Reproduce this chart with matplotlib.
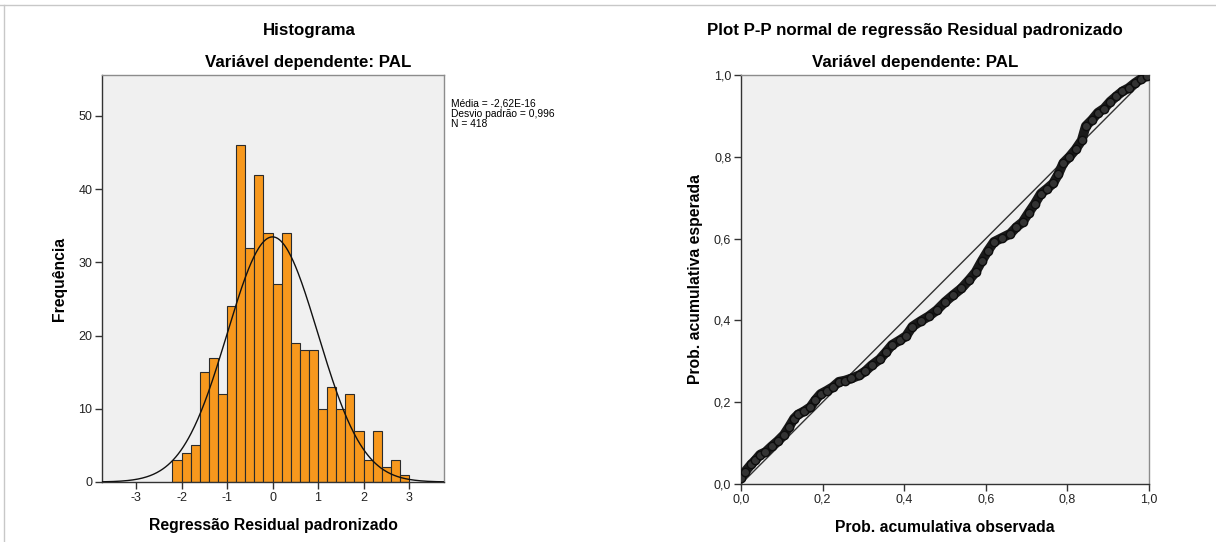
import numpy as np
import matplotlib
matplotlib.use('Agg')
import matplotlib.pyplot as plt
from matplotlib.lines import Line2D

plt.rcParams['font.family'] = ['Liberation Sans', 'DejaVu Sans']

# histogram data (standardized residuals, bin width 0.2)
bin_left = [-2.2, -2.0, -1.8, -1.6, -1.4, -1.2, -1.0, -0.8, -0.6, -0.4, -0.2, 0.0, 0.2,
            0.4, 0.6, 0.8, 1.0, 1.2, 1.4, 1.6, 1.8, 2.0, 2.2, 2.4, 2.6, 2.8]
counts = [3, 4, 5, 15, 17, 12, 24, 46, 32, 42, 34, 27, 34,
          19, 18, 18, 10, 13, 10, 12, 7, 3, 7, 2, 3, 1]
bin_width = 0.2
mean_val = -2.62e-16
sd_val = 0.996
n_obs = 418
hist_xticks = [-3, -2, -1, 0, 1, 2, 3]
hist_yticks = [0, 10, 20, 30, 40, 50]

pp_obs = [0.000, 0.010, 0.025, 0.035, 0.047, 0.060, 0.075, 0.090, 0.105, 0.118,
          0.130, 0.140, 0.155, 0.170, 0.182, 0.195, 0.210, 0.225, 0.240, 0.255,
          0.270, 0.290, 0.305, 0.320, 0.340, 0.355, 0.370, 0.390, 0.405, 0.420,
          0.440, 0.460, 0.480, 0.500, 0.520, 0.540, 0.560, 0.575, 0.590, 0.605,
          0.620, 0.640, 0.660, 0.675, 0.690, 0.705, 0.720, 0.735, 0.750, 0.765,
          0.778, 0.790, 0.805, 0.820, 0.835, 0.845, 0.860, 0.875, 0.890, 0.905,
          0.920, 0.935, 0.950, 0.965, 0.980, 0.995]
pp_exp = [0.015, 0.030, 0.048, 0.058, 0.072, 0.078, 0.092, 0.105, 0.120, 0.140,
          0.160, 0.170, 0.178, 0.188, 0.205, 0.220, 0.228, 0.237, 0.250, 0.253,
          0.258, 0.266, 0.276, 0.290, 0.305, 0.322, 0.340, 0.352, 0.362, 0.385,
          0.398, 0.410, 0.425, 0.445, 0.462, 0.478, 0.500, 0.518, 0.545, 0.570,
          0.592, 0.602, 0.612, 0.628, 0.640, 0.663, 0.685, 0.710, 0.722, 0.735,
          0.758, 0.785, 0.800, 0.818, 0.840, 0.875, 0.890, 0.908, 0.918, 0.935,
          0.948, 0.960, 0.968, 0.980, 0.990, 0.998]
pp_ticks = [0.0, 0.2, 0.4, 0.6, 0.8, 1.0]

W, H = 1216, 542
fig = plt.figure(figsize=(W / 100, H / 100), dpi=100)
fig.patch.set_facecolor('white')


def px_axes(l, t, r, b):
    return fig.add_axes([l / W, 1 - b / H, (r - l) / W, (b - t) / H])


def style_axes(ax):
    ax.set_facecolor('#F0F0F0')
    for s in ['top', 'right']:
        ax.spines[s].set_color('#8c8c8c')
    for s in ['left', 'bottom']:
        ax.spines[s].set_color('#333333')
    for s in ax.spines.values():
        s.set_linewidth(1.0)
    ax.tick_params(direction='out', length=5, width=1, color='#333333',
                   labelsize=9, labelcolor='#222222', pad=2)


# ---- histogram ----
ax1 = px_axes(102, 75, 444, 482)
style_axes(ax1)
ax1.bar(bin_left, counts, width=bin_width, align='edge', color='#F7981D',
        edgecolor='#2b2b2b', linewidth=0.8, zorder=2)
xs = np.linspace(-3.75, 3.77, 400)
curve = n_obs * bin_width / (sd_val * np.sqrt(2 * np.pi)) * np.exp(-0.5 * ((xs - mean_val) / sd_val) ** 2)
ax1.plot(xs, curve, color='#111111', lw=1.0, zorder=3)
ax1.set_xlim(-3.75, 3.77)
ax1.set_ylim(0, 55.6)
ax1.set_xticks(hist_xticks)
ax1.set_yticks(hist_yticks)
ax1.set_xticklabels([str(v) for v in hist_xticks])
ax1.set_xlabel('Regressão Residual padronizado', fontsize=11.3, fontweight='bold', labelpad=10)
ax1.set_ylabel('Frequência', fontsize=11.3, fontweight='bold', labelpad=8)

fig.text(309 / W, 1 - 30 / H, 'Histograma', ha='center', va='center', fontsize=12.2, fontweight='bold')
fig.text(308 / W, 1 - 62 / H, 'Variável dependente: PAL', ha='center', va='center', fontsize=12.2, fontweight='bold')
fig.text(451 / W, 1 - 99 / H,
         'Média = -2,62E-16\nDesvio padrão = 0,996\nN = 418',
         ha='left', va='top', fontsize=7.4, linespacing=0.98)

# ---- P-P plot ----
ax2 = px_axes(741, 75, 1149, 484)
style_axes(ax2)
ax2.plot([0, 1], [0, 1], color='#333333', lw=1.0, zorder=2)
ax2.plot(pp_obs, pp_exp, color='#1a1a1a', lw=7, solid_capstyle='round', zorder=3)
ax2.plot(pp_obs, pp_exp, 'o', ms=6, mfc='#333333', mec='#0d0d0d', mew=1.0, zorder=4)
ax2.set_xlim(0, 1)
ax2.set_ylim(0, 1)
ax2.set_xticks(pp_ticks)
ax2.set_yticks(pp_ticks)
ax2.set_xticklabels([f'{v:.1f}'.replace('.', ',') for v in pp_ticks])
ax2.set_yticklabels([f'{v:.1f}'.replace('.', ',') for v in pp_ticks])
ax2.set_xlabel('Prob. acumulativa observada', fontsize=11.3, fontweight='bold', labelpad=10)
ax2.set_ylabel('Prob. acumulativa esperada', fontsize=11.3, fontweight='bold', labelpad=8)

fig.text(915 / W, 1 - 30 / H, 'Plot P-P normal de regressão Residual padronizado',
         ha='center', va='center', fontsize=12.2, fontweight='bold')
fig.text(915 / W, 1 - 62 / H, 'Variável dependente: PAL', ha='center', va='center',
         fontsize=12.2, fontweight='bold')

# frame lines of the output viewer
fig.add_artist(Line2D([0, 1], [1 - 5 / H, 1 - 5 / H], color='#c8c8c8', lw=1))
fig.add_artist(Line2D([4 / W, 4 / W], [0, 1 - 5 / H], color='#c8c8c8', lw=1))

fig.savefig('out.png', dpi=100)
